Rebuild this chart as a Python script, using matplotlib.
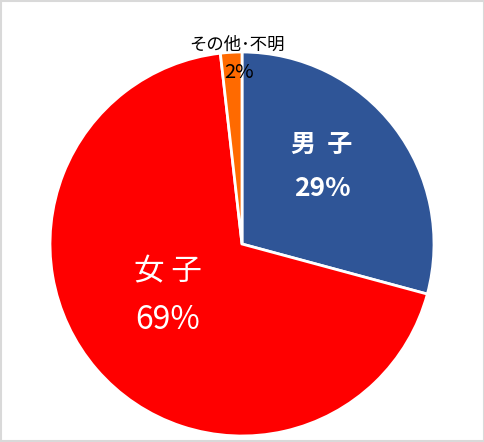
import matplotlib
matplotlib.use("Agg")
import matplotlib.pyplot as plt
from matplotlib.patches import Rectangle

categories = ["男子", "女子", "その他･不明"]
values = [29.2, 69.0, 1.8]
pct_labels = ["29%", "69%", "2%"]
colors = ["#2F5597", "#FF0000", "#FF6A00"]

plt.rcParams['font.family'] = ['Noto Sans CJK JP', 'DejaVu Sans']

fig = plt.figure(figsize=(4.85, 4.42), dpi=100)
ax = fig.add_axes([0, 0, 1, 1])

cx, cy, R = 242, 442 - 244, 192
wedges, _ = ax.pie(values, colors=colors, startangle=90, counterclock=False,
                   center=(cx, cy), radius=R, frame=True,
                   wedgeprops=dict(edgecolor='white', linewidth=2))
ax.set_xlim(0, 485)
ax.set_ylim(0, 442)
ax.set_aspect('equal')
ax.axis('off')

def px(x, y):
    return x, 442 - y

def spaced(s, n):
    return (" " * n).join(s)

ax.text(*px(322, 145), spaced(categories[0], 2), ha='center', va='center',
        color='white', fontsize=18, fontweight='bold')
ax.text(*px(322, 189), pct_labels[0], ha='center', va='center',
        color='white', fontsize=19, fontweight='bold')
ax.text(*px(168, 272), spaced(categories[1], 1), ha='center', va='center',
        color='white', fontsize=22)
ax.text(*px(168, 320), pct_labels[1], ha='center', va='center',
        color='white', fontsize=23)
ax.text(*px(237, 45), categories[2], ha='center', va='center',
        color='black', fontsize=12.5)
ax.text(*px(239, 73), pct_labels[2], ha='center', va='center',
        color='black', fontsize=14.5)

fig.patches.append(Rectangle((0.002, 0.002), 0.995, 0.995, transform=fig.transFigure,
                             fill=False, edgecolor='#D9D9D9', linewidth=1.5))

fig.savefig("out.png", dpi=100, facecolor='white')
